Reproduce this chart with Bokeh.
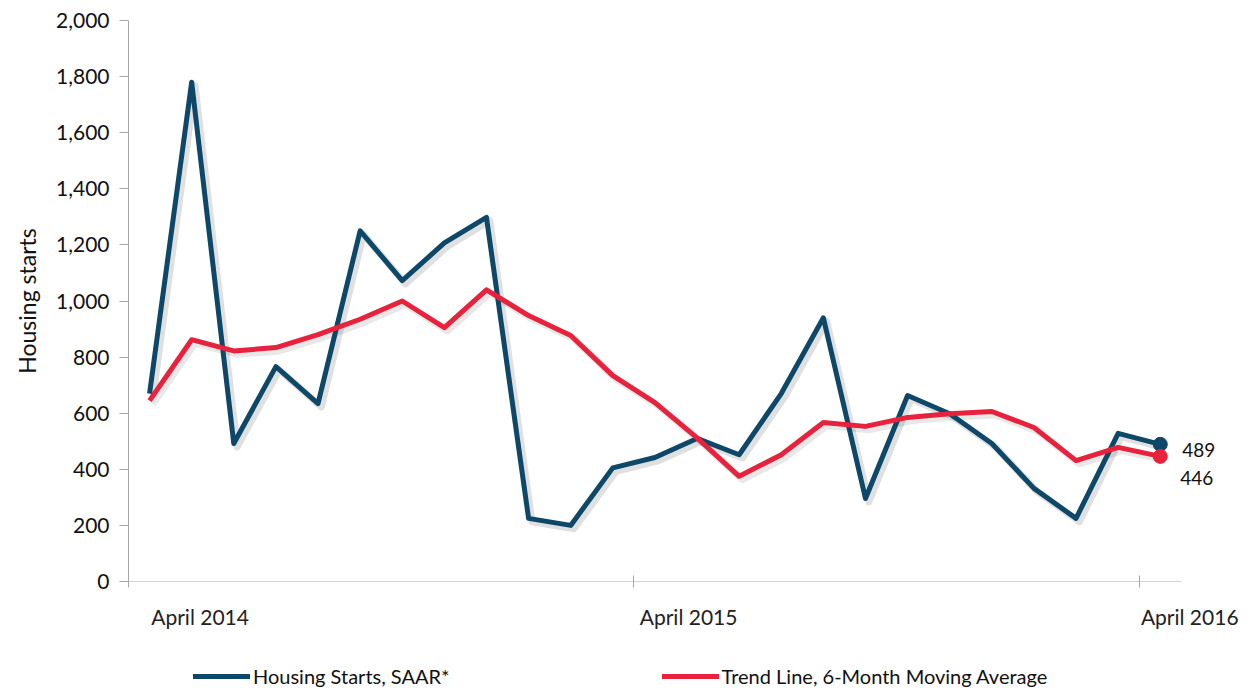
from bokeh.plotting import figure
from bokeh.layouts import column
from bokeh.models import (ColumnDataSource, FixedTicker, NumeralTickFormatter, Range1d,
                          Legend, LegendItem, Label)
from bokeh.transform import dodge
from bokeh.embed import file_html
from bokeh.resources import INLINE

# ---- data (monthly, April 2014 .. April 2016) ----
month_index = list(range(25))
housing_starts = [670, 1780, 492, 766, 634, 1250, 1073, 1207, 1298, 225, 200, 405,
                  442, 510, 452, 670, 940, 296, 663, 598, 492, 332, 225, 528, 489]
trend_6m = [645, 862, 822, 834, 880, 935, 1000, 905, 1040, 948, 877, 734,
            638, 512, 375, 452, 567, 553, 585, 598, 606, 549, 431, 478, 446]
series_names = ["Housing Starts, SAAR*", "Trend Line, 6-Month Moving Average"]
tick_labels = ["April 2014", "April 2015", "April 2016"]
tick_months = [0, 12, 24]          # month index each tick label refers to
y_ticks = [0, 200, 400, 600, 800, 1000, 1200, 1400, 1600, 1800, 2000]

BLUE = "#0d4868"
RED = "#e8213c"
AXIS = "#a6a6a6"
FONT = "Lato"
W = 1246

X0, X1 = -0.5, 24.5          # category extent of the axis line
src = ColumnDataSource(dict(x=month_index, hs=housing_starts, tr=trend_6m))

p = figure(width=W, height=636, output_backend="svg", toolbar_location=None,
           x_range=Range1d(X0, 26.0), y_range=Range1d(0, 2000),
           min_border_left=128, min_border_right=2, min_border_top=20, min_border_bottom=55)
p.outline_line_color = None
p.xgrid.visible = False
p.ygrid.visible = False

# x axis line (only across the category extent)
p.segment(x0=[X0], x1=[X1], y0=[0], y1=[0], line_color=AXIS, line_width=1)

# shadows
shx = dodge("x", 0.08, range=p.x_range)
p.line(x=shx, y=dodge("hs", -12, range=p.y_range), source=src, line_color="#000000",
       line_alpha=0.12, line_width=7, line_join="round")
p.line(x=shx, y=dodge("tr", -12, range=p.y_range), source=src, line_color="#000000",
       line_alpha=0.09, line_width=7, line_join="round")

p.line("x", "hs", source=src, line_color=BLUE, line_width=5, line_join="round")
p.line("x", "tr", source=src, line_color=RED, line_width=5, line_join="round")

# end-point markers and labels
p.scatter([month_index[-1]], [housing_starts[-1]], size=14, color=BLUE)
p.scatter([month_index[-1]], [trend_6m[-1]], size=14, color=RED)
p.add_layout(Label(x=month_index[-1], y=housing_starts[-1], text=str(housing_starts[-1]),
                   x_offset=22, y_offset=-6, text_baseline="middle", text_font=FONT,
                   text_font_size="19px", text_color="#111111"))
p.add_layout(Label(x=month_index[-1], y=trend_6m[-1], text=str(trend_6m[-1]),
                   x_offset=20, y_offset=-22, text_baseline="middle", text_font=FONT,
                   text_font_size="19px", text_color="#111111"))

# y axis
p.yaxis.ticker = FixedTicker(ticks=y_ticks)
p.yaxis.formatter = NumeralTickFormatter(format="0,0")
p.yaxis.axis_line_color = AXIS
p.yaxis.major_tick_line_color = AXIS
p.yaxis.major_tick_out = 9
p.yaxis.major_tick_in = 0
p.yaxis.minor_tick_line_color = None
p.yaxis.major_label_text_font = FONT
p.yaxis.major_label_text_font_size = "21px"
p.yaxis.major_label_text_color = "#111111"
p.yaxis.major_label_standoff = 10
p.yaxis.axis_label = "Housing starts"
p.yaxis.axis_label_text_font = FONT
p.yaxis.axis_label_text_font_size = "23px"
p.yaxis.axis_label_text_font_style = "normal"
p.yaxis.axis_label_text_color = "#111111"
p.yaxis.axis_label_standoff = 12

# x axis: labels offset to the right of the year-boundary ticks (minor ticks)
label_pos = [m + off for m, off in zip(tick_months, [1.2, 0.8, 0.7])]
boundaries = [X0, 11.5, 23.5]
p.xaxis.ticker = FixedTicker(ticks=label_pos, minor_ticks=boundaries)
p.xaxis.major_label_overrides = {lp: t for lp, t in zip(label_pos, tick_labels)}
p.xaxis.axis_line_color = None
p.xaxis.major_tick_line_color = None
p.xaxis.minor_tick_line_color = AXIS
p.xaxis.minor_tick_in = 6
p.xaxis.minor_tick_out = 6
p.xaxis.major_label_standoff = 16
p.xaxis.major_label_text_font = FONT
p.xaxis.major_label_text_font_size = "21px"
p.xaxis.major_label_text_color = "#222222"

# ---- legend strip below the chart (series drawn out of view, only legend shows) ----
lg = figure(width=W, height=54, output_backend="svg", toolbar_location=None,
            x_range=Range1d(0, 1), y_range=Range1d(-2, -1),
            min_border_left=128, min_border_right=2, min_border_top=0, min_border_bottom=0)
lg.axis.visible = False
lg.grid.visible = False
lg.outline_line_color = None
l1 = lg.line("x", "hs", source=src, line_color=BLUE, line_width=5, line_cap="round")
l2 = lg.line("x", "tr", source=src, line_color=RED, line_width=5, line_cap="round")
legend = Legend(items=[LegendItem(label=series_names[0], renderers=[l1]),
                       LegendItem(label=series_names[1], renderers=[l2])],
                orientation="horizontal", location=(65, 2), glyph_width=57, glyph_height=20,
                label_standoff=3, spacing=212, padding=0, margin=0,
                border_line_color=None, background_fill_alpha=0,
                label_text_font=FONT, label_text_font_size="20px", label_text_color="#111111")
lg.add_layout(legend, "center")

open("out.html", "w").write(file_html(column(p, lg, spacing=0), INLINE))
